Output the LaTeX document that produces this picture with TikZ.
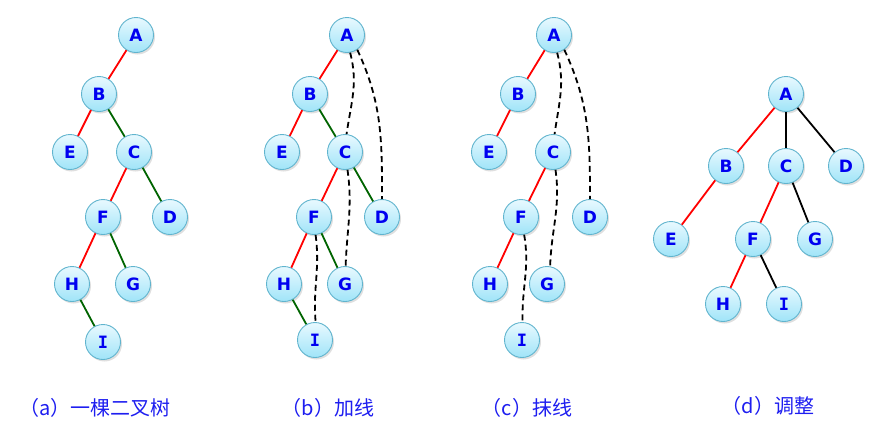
\documentclass[tikz,border=0pt]{standalone}
\usepackage{fontspec}
\setmainfont{DejaVu Sans}
\newfontfamily\cjkfont{Noto Sans CJK SC}
\newfontfamily\serifI{DejaVu Sans Mono}
\usetikzlibrary{shadows}
\definecolor{nodeborder}{RGB}{96,180,206}
\definecolor{nodetop}{RGB}{232,249,255}
\definecolor{nodebot}{RGB}{160,228,248}
\definecolor{lblue}{RGB}{0,0,240}
\definecolor{capblue}{RGB}{30,30,240}
\definecolor{redE}{RGB}{255,0,0}
\definecolor{greenE}{RGB}{0,100,0}
\tikzset{
  tnode/.style={circle, minimum size=35pt, inner sep=0pt, draw=nodeborder, line width=0.9pt,
    top color=nodetop, bottom color=nodebot, text=lblue,
    font=\bfseries\fontsize{17}{17}\selectfont,
    drop shadow={shadow xshift=1.5pt, shadow yshift=-2pt, opacity=0.25, fill=gray}},
  redline/.style={draw=redE, line width=1.8pt},
  greenline/.style={draw=greenE, line width=1.8pt},
  blackline/.style={draw=black, line width=1.8pt},
  dline/.style={draw=black, line width=1.8pt, dash pattern=on 6pt off 4pt},
  caption/.style={text=capblue, font=\cjkfont\fontsize{20}{20}\selectfont, inner sep=0pt},
}
\begin{document}
\begin{tikzpicture}[x=1pt, y=-1pt]
\path[use as bounding box] (0,0) rectangle (889,421);
% ---------- (a) ----------
\node[tnode] (aA) at (136,35) {A};
\node[tnode] (aB) at (99,94) {B};
\node[tnode] (aE) at (70,152) {E};
\node[tnode] (aC) at (134,152) {C};
\node[tnode] (aF) at (103,217) {F};
\node[tnode] (aD) at (170,217) {D};
\node[tnode] (aH) at (72,284) {H};
\node[tnode] (aG) at (133,284) {G};
\node[tnode] (aI) at (103,342) {\serifI\bfseries I};
% ---------- (b) ----------
\node[tnode] (bA) at (347,35) {A};
\node[tnode] (bB) at (310,94) {B};
\node[tnode] (bE) at (282,152) {E};
\node[tnode] (bC) at (345,152) {C};
\node[tnode] (bF) at (314,217) {F};
\node[tnode] (bD) at (382,217) {D};
\node[tnode] (bH) at (284,284) {H};
\node[tnode] (bG) at (345,284) {G};
\node[tnode] (bI) at (315,340) {\serifI\bfseries I};
% ---------- (c) ----------
\node[tnode] (cA) at (554,35) {A};
\node[tnode] (cB) at (518,94) {B};
\node[tnode] (cE) at (489,152) {E};
\node[tnode] (cC) at (553,152) {C};
\node[tnode] (cF) at (521,217) {F};
\node[tnode] (cD) at (590,217) {D};
\node[tnode] (cH) at (490,284) {H};
\node[tnode] (cG) at (547,284) {G};
\node[tnode] (cI) at (522,340) {\serifI\bfseries I};
% ---------- (d) ----------
\node[tnode] (dA) at (786,94) {A};
\node[tnode] (dB) at (726,166) {B};
\node[tnode] (dC) at (786,166) {C};
\node[tnode] (dD) at (846,166) {D};
\node[tnode] (dE) at (671,239) {E};
\node[tnode] (dF) at (753,239) {F};
\node[tnode] (dG) at (815,239) {G};
\node[tnode] (dH) at (723,304) {H};
\node[tnode] (dI) at (784,304) {\serifI\bfseries I};
% ---------- edges (a) ----------
\draw[redline] (aA) -- (aB);
\draw[redline] (aB) -- (aE);
\draw[greenline] (aB) -- (aC);
\draw[redline] (aC) -- (aF);
\draw[greenline] (aC) -- (aD);
\draw[redline] (aF) -- (aH);
\draw[greenline] (aF) -- (aG);
\draw[greenline] (aH) -- (aI);
% ---------- edges (b) ----------
\draw[redline] (bA) -- (bB);
\draw[redline] (bB) -- (bE);
\draw[greenline] (bB) -- (bC);
\draw[redline] (bC) -- (bF);
\draw[greenline] (bC) -- (bD);
\draw[redline] (bF) -- (bH);
\draw[greenline] (bF) -- (bG);
\draw[greenline] (bH) -- (bI);
\draw[dline] (bA.-80) to[out=-75, in=82] (bC.85);
\draw[dline] (bA.-55) to[out=-65, in=90] (bD.90);
\draw[dline] (bC.-82) to[out=-82, in=88] (bG.88);
\draw[dline] (bF.-85) to[out=-82, in=95] (bI.88);
% ---------- edges (c) ----------
\draw[redline] (cA) -- (cB);
\draw[redline] (cB) -- (cE);
\draw[redline] (cC) -- (cF);
\draw[redline] (cF) -- (cH);
\draw[dline] (cA.-80) to[out=-75, in=82] (cC.85);
\draw[dline] (cA.-55) to[out=-65, in=90] (cD.90);
\draw[dline] (cC.-82) to[out=-82, in=88] (cG.80);
\draw[dline] (cF.-80) to[out=-80, in=92] (cI.88);
% ---------- edges (d) ----------
\draw[redline] (dA) -- (dB);
\draw[blackline] (dA) -- (dC);
\draw[blackline] (dA) -- (dD);
\draw[redline] (dB) -- (dE);
\draw[redline] (dC) -- (dF);
\draw[blackline] (dC) -- (dG);
\draw[redline] (dF) -- (dH);
\draw[blackline] (dF) -- (dI);
% ---------- captions ----------
\node[caption] (capa) at (95,408) {（a）一棵二叉树};
\node[caption] (capb) at (328,408) {（b）加线};
\node[caption] (capc) at (527,408) {（c）抹线};
\node[caption] (capd) at (768,406) {（d）调整};
\end{tikzpicture}
\end{document}
